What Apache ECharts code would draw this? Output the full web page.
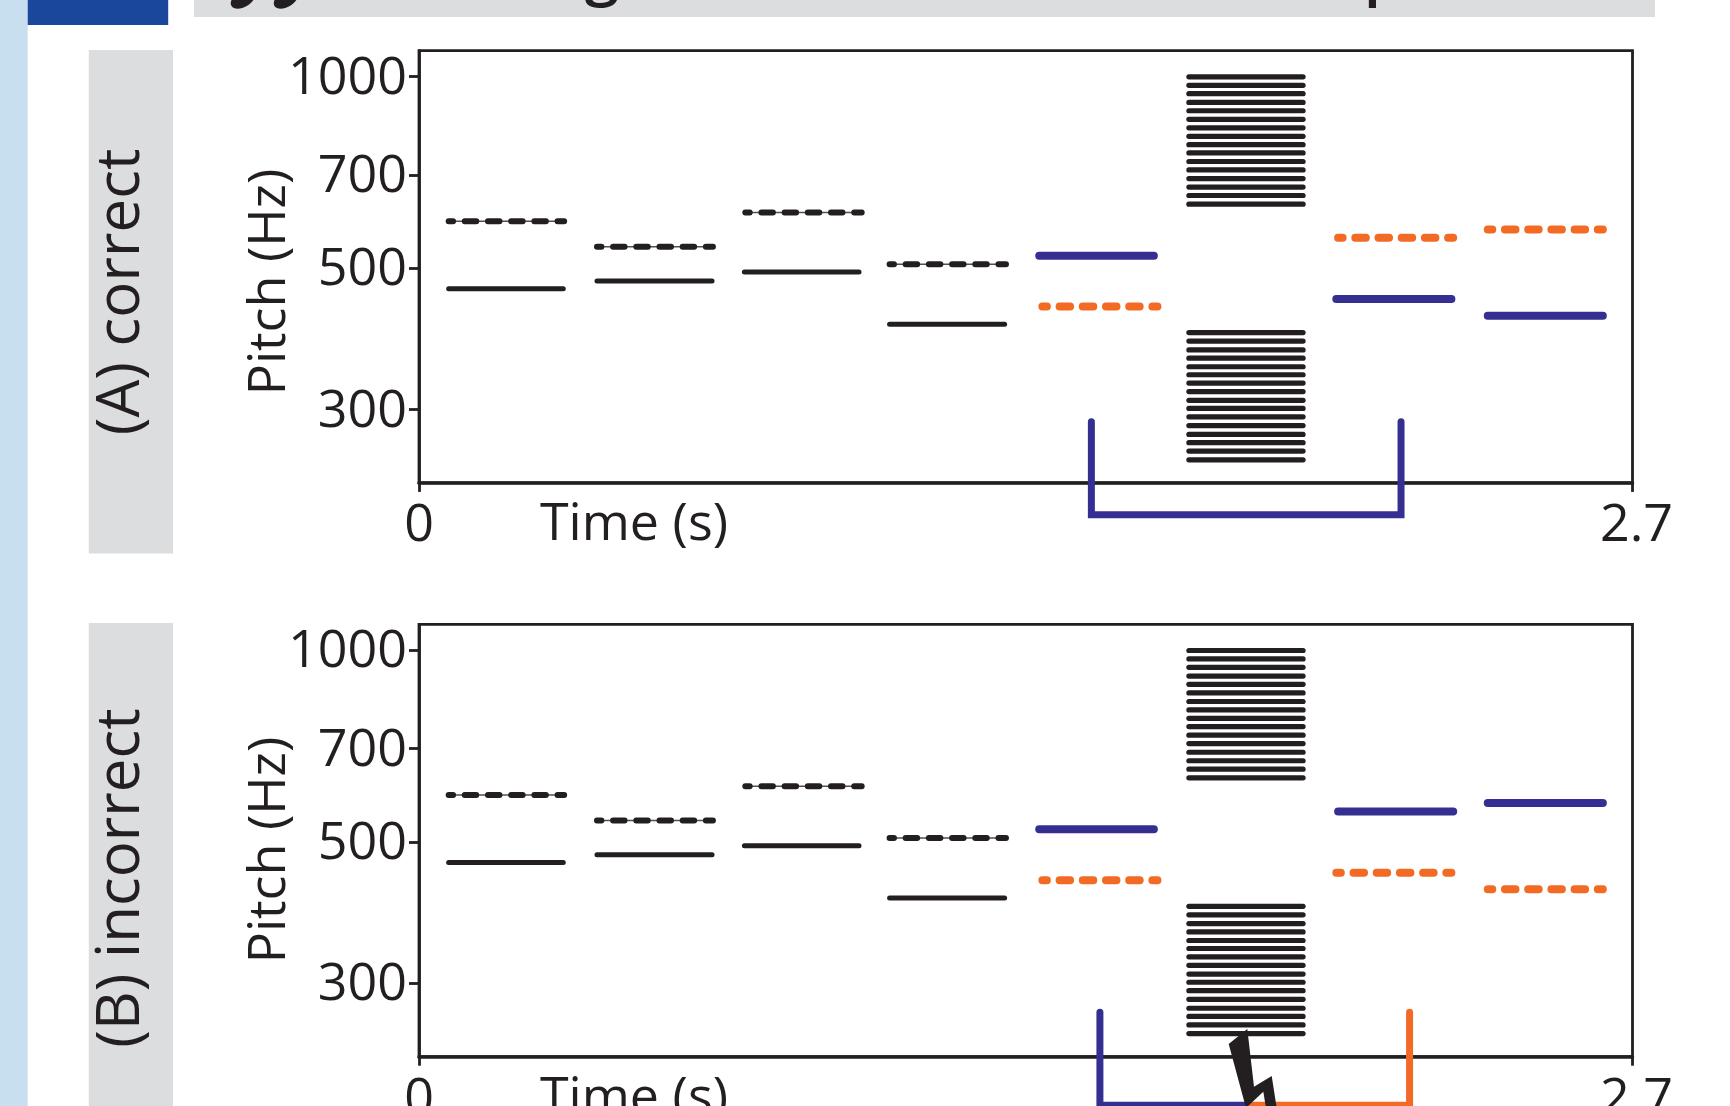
<!DOCTYPE html>
<html>
<head>
<meta charset="utf-8">
<style>html,body{margin:0;padding:0;background:#fff}#c{width:1730px;height:1106px}</style>
<script src="https://cdn.jsdelivr.net/npm/echarts@6/dist/echarts.min.js"></script>
</head>
<body>
<div id="c"></div>
<script>
// ---- data ----
const yTicks = [300, 500, 700, 1000];
const xTicks = [0, 2.7];
const yRange = [230, 1097];
const xRange = [0, 2.7];

// tone onset / offset (s)
const blackSolidSpans = [[0.066, 0.321], [0.396, 0.652], [0.724, 0.979], [1.047, 1.303]];
const blackDashSpans  = [[0.066, 0.323], [0.396, 0.654], [0.726, 0.985], [1.047, 1.306]];

// pitches (Hz), same flankers in both panels
const flankSolidHz = [464, 477, 493, 408];
const flankDashHz  = [592, 540, 611, 507];

// target-region tones: Hz
const tone5Hz = [523, 435];
const tone7Hz = [558, 447];
const tone8Hz = [575, 421];
const tone5SolidSpan = [1.380, 1.635];
const tone5DashSpan  = [1.387, 1.643];
const tone7UpperSpan = [2.045, 2.301];
const tone7LowerSpan = [2.041, 2.297];
const tone8Span = [2.378, 2.634];

// noise masker bands
const noiseSpan = [1.713, 1.967];
const noiseUpperHz = [998, 968, 939, 910, 883, 856, 830, 805, 781, 758, 735, 713, 691, 670, 650, 630];
const noiseLowerHz = [396, 384, 372, 361, 350, 340, 330, 320, 310, 301, 292, 283, 274, 266, 258, 250];

// brackets (time, Hz)
const bracketA = [[1.496, 287], [1.496, 205], [2.185, 205], [2.185, 287]];
const bracketBBlue = [[1.515, 270], [1.515, 193], [1.85, 193]];
const bracketBOrange = [[1.85, 193], [2.204, 193], [2.204, 270]];

const INK = '#231f20', BLUE = '#352f92', ORANGE = '#f36a25';
const FONT = '"Open Sans"';

function seg(xi, yi, span, hz, color, width, dash, offset, z) {
  return {
    type: 'line', xAxisIndex: xi, yAxisIndex: yi, silent: true, symbol: 'none', animation: false, clip: false, z: z || 3,
    data: [[span[0], hz], [span[1], hz]],
    lineStyle: {color, width, cap: 'round', type: dash || 'solid', dashOffset: offset || 0}
  };
}
function poly(xi, yi, data, color, cap) {
  return {
    type: 'line', xAxisIndex: xi, yAxisIndex: yi, silent: true, symbol: 'none', animation: false, clip: false, z: 4,
    data, lineStyle: {color, width: 7, cap: cap || 'round', join: 'miter'}
  };
}
function panelSeries(i, incorrect) {
  const s = [];
  blackSolidSpans.forEach((sp, k) => s.push(seg(i, i, sp, flankSolidHz[k], INK, 5)));
  blackDashSpans.forEach((sp, k) => {
    s.push(seg(i, i, sp, flankDashHz[k], '#55504f', 1.5));
    s.push(seg(i, i, sp, flankDashHz[k], INK, 6, [11.5, 11.7], 7.1));
  });
  const solidC = BLUE, dashC = ORANGE;
  s.push(seg(i, i, tone5SolidSpan, tone5Hz[0], solidC, 8));
  s.push(seg(i, i, tone5DashSpan, tone5Hz[1], dashC, 8, [10.5, 12.7], 6));
  if (!incorrect) {
    s.push(seg(i, i, tone7UpperSpan, tone7Hz[0], dashC, 8, [10.5, 12.7], 6));
    s.push(seg(i, i, tone7LowerSpan, tone7Hz[1], solidC, 8));
    s.push(seg(i, i, tone8Span, tone8Hz[0], dashC, 8, [10.5, 12.7], 6));
    s.push(seg(i, i, tone8Span, tone8Hz[1], solidC, 8));
  } else {
    s.push(seg(i, i, tone7UpperSpan, tone7Hz[0], solidC, 8));
    s.push(seg(i, i, tone7LowerSpan, tone7Hz[1], dashC, 8, [10.5, 12.7], 6));
    s.push(seg(i, i, tone8Span, tone8Hz[0], solidC, 8));
    s.push(seg(i, i, tone8Span, tone8Hz[1], dashC, 8, [10.5, 12.7], 6));
  }
  noiseUpperHz.concat(noiseLowerHz).forEach(h => s.push(seg(i, i, noiseSpan, h, INK, 5.2)));
  if (!incorrect) s.push(poly(i, i, bracketA, BLUE));
  else { s.push(poly(i, i, bracketBBlue, BLUE)); s.push(poly(i, i, bracketBOrange, ORANGE)); }
  return s;
}
function xAxisFor(i) {
  return {
    type: 'value', gridIndex: i, min: xRange[0], max: xRange[1], splitLine: {show: false},
    axisLine: {show: true, onZero: false, lineStyle: {color: INK, width: 3.5}},
    axisTick: {show: true, length: 9, customValues: xTicks, lineStyle: {color: INK, width: 2.8}},
    axisLabel: {show: true, customValues: xTicks, margin: 17, color: INK, fontFamily: FONT, fontSize: 52,
      formatter: v => v === 0 ? '0' : '{r|' + v + '}',
      rich: {r: {color: INK, fontFamily: FONT, fontSize: 52, padding: [0, 0, 0, 8]}}, hideOverlap: false}
  };
}
function yAxisFor(i) {
  return {
    type: 'log', logBase: 10, gridIndex: i, min: yRange[0], max: yRange[1], splitLine: {show: false}, minorTick: {show: false},
    axisLine: {show: true, onZero: false, lineStyle: {color: INK, width: 2.8}},
    axisTick: {show: true, length: 10, customValues: yTicks, lineStyle: {color: INK, width: 2.8}},
    axisLabel: {show: true, customValues: yTicks, margin: 12, color: INK, fontFamily: FONT, fontSize: 52,
      formatter: v => '{t|' + Math.round(v) + '}',
      rich: {t: {color: INK, fontFamily: FONT, fontSize: 52, padding: [5, 0, 0, 0]}}}
  };
}
function txt(text, x, y, size, rot, extra) {
  return {type: 'text', x, y, rotation: rot ? Math.PI / 2 : 0, z: 10, silent: true,
    style: Object.assign({text, fill: INK, fontFamily: FONT, fontSize: size, align: 'center', verticalAlign: 'middle'}, extra || {})};
}
function rect(x, y, w, h, fill) { return {type: 'rect', shape: {x, y, width: w, height: h}, style: {fill}, z: 0, silent: true}; }
function blob(x, y) { return {type: 'ellipse', x, y, rotation: 0.55, shape: {cx: 0, cy: 0, rx: 13.5, ry: 8}, style: {fill: INK}, z: 5, silent: true}; }

const chart = echarts.init(document.getElementById('c'), null, {renderer: 'canvas'});
chart.setOption({
  animation: false,
  backgroundColor: '#fff',
  grid: [
    {left: 419, top: 50.7, width: 1213.5, height: 432.2, show: true, borderColor: INK, borderWidth: 2.8, backgroundColor: 'transparent', containLabel: false, outerBoundsMode: 'none'},
    {left: 419, top: 624.3, width: 1213.5, height: 432.4, show: true, borderColor: INK, borderWidth: 2.8, backgroundColor: 'transparent', containLabel: false, outerBoundsMode: 'none'}
  ],
  xAxis: [xAxisFor(0), xAxisFor(1)],
  yAxis: [yAxisFor(0), yAxisFor(1)],
  series: panelSeries(0, false).concat(panelSeries(1, true)),
  graphic: {elements: [
    rect(0, 0, 27.7, 1106, '#c7dfee'),
    rect(27.7, 0, 140.5, 25, '#1a479c'),
    rect(194, 0, 1461, 17, '#dcddde'),
    blob(243, -1), blob(286, -1),
    txt('g', 602, -25, 62, false, {fontWeight: 600}),
    txt('p', 1383, -25, 62, false, {fontWeight: 600}),
    rect(88.8, 50, 84.2, 503.6, '#dcddde'),
    rect(88.8, 623, 84.2, 483, '#dcddde'),
    txt('(A) correct', 122, 292, 60, true),
    txt('(B) incorrect', 122, 878, 60, true),
    txt('Pitch (Hz)', 270, 282, 52, true),
    txt('Pitch (Hz)', 270, 850, 52, true),
    txt('Time (s)', 634, 525, 52, false),
    txt('Time (s)', 634, 1099, 52, false),
    {type: 'polygon', z: 12, silent: true, style: {fill: INK},
      shape: {points: [[1247.3,1029],[1254,1086.7],[1271.7,1076],[1276.7,1108],[1266,1108],[1263.3,1091.7],[1246,1108],[1228.7,1044]]}}
  ]}
});
</script>
</body>
</html>
